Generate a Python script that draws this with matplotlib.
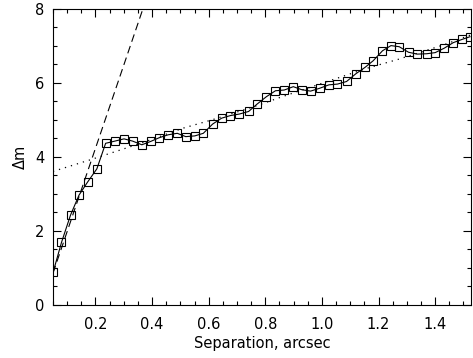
import matplotlib
matplotlib.use('Agg')
import matplotlib.pyplot as plt
from matplotlib.ticker import MultipleLocator

# Measured profile (separation in arcsec, delta magnitude)
sep = [0.051, 0.080, 0.112, 0.142, 0.172, 0.205, 0.236, 0.269, 0.301, 0.331,
       0.364, 0.395, 0.425, 0.457, 0.489, 0.519, 0.551, 0.581, 0.614, 0.646,
       0.677, 0.708, 0.741, 0.771, 0.804, 0.836, 0.867, 0.899, 0.928, 0.960,
       0.993, 1.025, 1.055, 1.087, 1.120, 1.152, 1.181, 1.214, 1.244, 1.273,
       1.306, 1.337, 1.370, 1.400, 1.432, 1.464, 1.496, 1.523]
dm = [0.89, 1.68, 2.42, 2.96, 3.31, 3.67, 4.36, 4.42, 4.48, 4.42,
      4.32, 4.41, 4.51, 4.59, 4.63, 4.54, 4.56, 4.63, 4.88, 5.04,
      5.11, 5.15, 5.22, 5.42, 5.62, 5.78, 5.80, 5.89, 5.81, 5.77,
      5.85, 5.94, 5.96, 6.03, 6.24, 6.41, 6.59, 6.86, 7.00, 6.97,
      6.82, 6.77, 6.78, 6.81, 6.93, 7.08, 7.17, 7.24]

# Steep inner fit (dashed)
fit_in_x = [0.05, 0.368]
fit_in_y = [0.85, 8.0]

# Outer trend (dotted)
fit_out_x = [0.05, 0.18, 0.36, 0.51, 0.61, 0.76, 0.86, 1.0, 1.16, 1.27, 1.43, 1.53]
fit_out_y = [3.60, 3.91, 4.36, 4.77, 4.99, 5.35, 5.62, 5.98, 6.39, 6.63, 7.02, 7.30]

fig = plt.figure(figsize=(4.73, 3.58), dpi=100)
ax = fig.add_axes([0.112, 0.149, 0.884, 0.827])

ax.plot(sep, dm, color='black', lw=0.8, marker='s', markersize=6,
        markerfacecolor='none', markeredgecolor='black', markeredgewidth=0.8)
ax.plot(fit_in_x, fit_in_y, color='black', lw=0.8, ls=(0, (7, 4)))
ax.plot(fit_out_x, fit_out_y, color='black', lw=0.9, ls=(0, (1, 4)))

ax.set_xlim(0.05, 1.527)
ax.set_ylim(0, 8)
ax.xaxis.set_minor_locator(MultipleLocator(0.05))
ax.yaxis.set_major_locator(MultipleLocator(2))
ax.yaxis.set_minor_locator(MultipleLocator(0.5))
ax.set_xticks([0.2, 0.4, 0.6, 0.8, 1.0, 1.2, 1.4])
ax.set_xticklabels(['0.2', '0.4', '0.6', '0.8', '1.0', '1.2', '1.4'])
ax.tick_params(which='both', direction='in', top=True, right=True,
               labelsize=10.5, width=0.8)
ax.tick_params(axis='x', pad=9)
ax.tick_params(axis='y', pad=6)
ax.tick_params(which='major', length=6)
ax.tick_params(which='minor', length=3)
for s in ax.spines.values():
    s.set_linewidth(0.8)

ax.set_xlabel('Separation, arcsec', fontsize=10.5, labelpad=3)
ax.set_ylabel('Δm', fontsize=10.5, labelpad=5)

fig.savefig('out.png', dpi=100)
